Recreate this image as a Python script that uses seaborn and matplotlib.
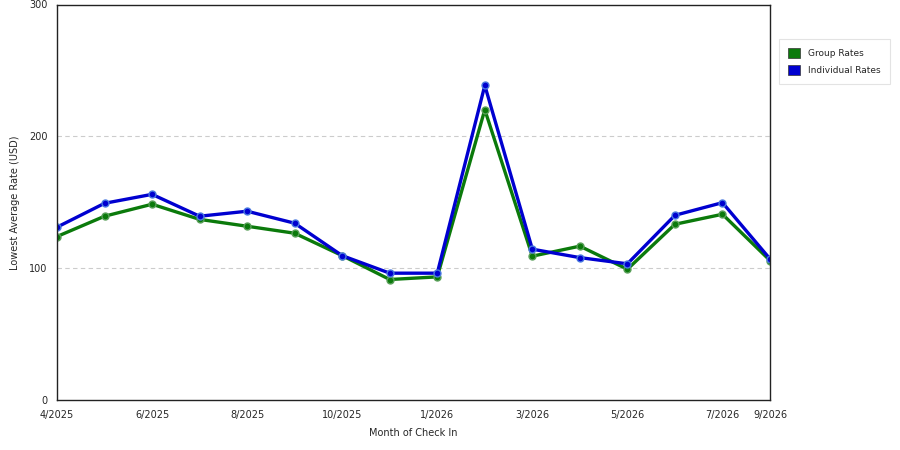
import pandas as pd
import matplotlib
matplotlib.use("Agg")
import matplotlib.pyplot as plt
import seaborn as sns
from matplotlib.patches import Patch

sns.set_style("white")
plt.rcParams['font.family'] = ['DejaVu Sans']

# month labels for each data point (x positions are by index)
months = ["4/2025", "5/2025", "6/2025", "7/2025", "8/2025", "9/2025", "10/2025", "12/2025",
          "1/2026", "2/2026", "3/2026", "4/2026", "5/2026", "6/2026", "7/2026", "9/2026"]
tick_labels = ["4/2025", "6/2025", "8/2025", "10/2025", "1/2026", "3/2026", "5/2026", "7/2026", "9/2026"]
tick_idx = [0, 2, 4, 6, 8, 10, 12, 14, 15]

group_rates = [124, 139.4, 148.5, 137, 131.8, 126.5, 109.5, 91.4,
               93.4, 220.2, 109.1, 116.7, 99.2, 133.3, 140.9, 105.8]
individual_rates = [131.1, 149.2, 156, 139.4, 143.2, 134.1, 109.5, 96.2,
                    96.2, 238.6, 114.4, 108, 103.3, 140.1, 149.7, 107]

df = pd.DataFrame({
    "idx": list(range(len(months))) * 2,
    "rate": group_rates + individual_rates,
    "series": ["Group Rates"] * len(months) + ["Individual Rates"] * len(months),
})

colors = {"Group Rates": "#0b7a0b", "Individual Rates": "#0000d0"}
edge = {"Group Rates": "#5aa05a", "Individual Rates": "#4a7ae0"}

fig = plt.figure(figsize=(9, 4.5), dpi=100)
ax = fig.add_axes([57 / 900, 50 / 450, 713 / 900, 395.5 / 450])

for name in ["Group Rates", "Individual Rates"]:
    sns.lineplot(data=df[df["series"] == name], x="idx", y="rate", ax=ax,
                 color=colors[name], linewidth=2.4, marker="o", markersize=5,
                 markeredgecolor=edge[name], markeredgewidth=1.0, legend=False)

ax.set_xlim(0, len(months) - 1)
ax.set_ylim(0, 300)
ax.set_yticks([0, 100, 200, 300])
ax.set_xticks(tick_idx)
ax.set_xticklabels(tick_labels)
ax.tick_params(axis="both", labelsize=7, length=5, width=0.8, direction="out", color="#333333", pad=2)
for y in [100, 200]:
    ax.axhline(y, color="#cccccc", linestyle=(0, (4, 3)), linewidth=0.8, zorder=0)
for s in ax.spines.values():
    s.set_color("#222222")
    s.set_linewidth(1.0)

ax.set_xlabel("Month of Check In", fontsize=7, labelpad=6)
ax.set_ylabel("Lowest Average Rate (USD)", fontsize=7, labelpad=6)

handles = [Patch(facecolor=colors[n], edgecolor="#333333", linewidth=0.5, label=n)
           for n in ["Group Rates", "Individual Rates"]]
leg = fig.legend(handles=handles, loc="upper left", bbox_to_anchor=(779 / 900, 1 - 39 / 450),
                 borderaxespad=0, fontsize=6.5, frameon=True, fancybox=False,
                 handlelength=1.3, handleheight=1.3, borderpad=1.0, labelspacing=0.8,
                 handletextpad=0.9)
leg.get_frame().set_edgecolor("#dddddd")
leg.get_frame().set_linewidth(0.8)

fig.savefig("out.png", dpi=100)
